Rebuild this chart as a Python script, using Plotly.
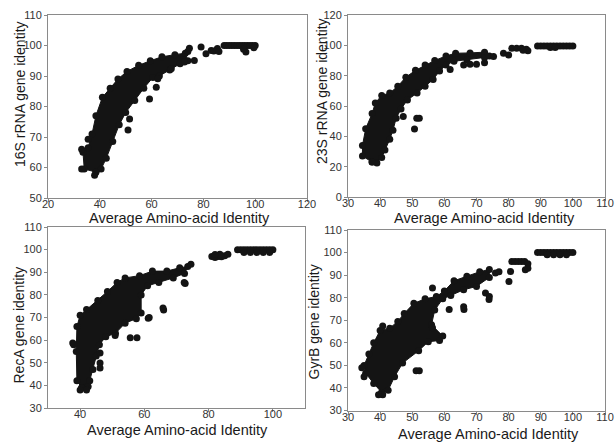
import plotly.graph_objects as go

# ---------------- data ----------------
# Panel 1: 16S rRNA vs AAI  -- dense core outline + individual points
p1_core_x = [38.5, 34, 33.5, 35.5, 37, 38.5, 41, 44, 47, 50.5, 55, 59.5, 64, 69, 73,
             74, 71, 67, 63, 60.5, 57, 53.5, 50, 47.5, 45, 42.5, 40.5]
p1_core_y = [58.5, 59.5, 65, 66.5, 71, 77, 83, 86, 89, 91.5, 93.5, 95, 96.3, 97, 97.5,
             95, 94, 92, 90, 89.5, 86, 82, 78, 74, 68.5, 63, 59.5]
p1_pts_x = [35.5, 33, 33, 38, 59.2, 61.8, 51.5, 50.9, 62.4, 67.6, 72.7, 76.5, 74.6, 74, 79.1,
            83, 85.4, 81, 84, 86, 88, 89, 90, 91, 92, 93, 94, 95, 96, 97, 98, 99, 100, 96.4, 95.5, 99.5]
p1_pts_y = [69.3, 66, 59.5, 57.5, 82.5, 86.3, 75.9, 72.3, 89.1, 92.4, 94.6, 95.1, 99.1, 98, 99.5,
            98.4, 99, 97.3, 98.2, 98, 100, 100, 100, 100, 100, 100, 100, 100, 100, 100, 100, 100, 100, 97.9, 98.8, 99.3]

# Panel 2: 23S rRNA vs AAI
p2_core_x = [37.5, 34.5, 34.5, 35.5, 37.5, 38.5, 40.5, 43, 45.5, 48, 51, 54, 57, 60.5, 63.5, 68, 72.5,
             72.5, 67, 63, 60.5, 58.5, 56.5, 54, 51.5, 48.5, 46.5, 45, 44, 43, 41.5, 40.5, 39]
p2_core_y = [23, 27, 34, 45, 55, 62, 67, 68.5, 73, 79, 83.5, 87, 90, 93, 94.8, 95, 95.5,
             92, 90.5, 89.5, 87, 83, 77.5, 73, 68.5, 64, 58, 52, 44, 38, 31, 26, 22.5]
p2_pts_x = [47.2, 51.4, 52.2, 50.7, 61.8, 66, 68, 70, 72.5, 74, 75.3, 78.4, 80, 81, 82.5, 84, 85.5, 86, 84.5,
            89, 90, 91, 92, 93, 94, 95, 96, 97, 98, 99, 100, 93, 94.5]
p2_pts_y = [53, 52, 52, 44.8, 84, 87, 87.5, 87.5, 88.5, 93, 92.6, 94.8, 93.7, 98, 98, 98, 97.5, 96.5, 96.8,
            99.5, 99.5, 99.5, 99.5, 99.5, 99.5, 99.5, 99.5, 99.5, 99.5, 99.5, 99.5, 98.5, 98.5]

# Panel 3: RecA vs AAI
p3_core_x = [40.5, 39, 38.8, 39, 40, 42, 45.5, 48.5, 51.5, 54, 58.5, 62.5, 67, 71, 73.5,
             72.5, 69, 64.5, 61, 59, 59, 57.5, 54, 51, 48, 46, 45, 44, 43, 42.5]
p3_core_y = [39, 42, 55, 66, 71, 73.5, 77.5, 81.5, 85.5, 87.5, 88.5, 90.5, 90.5, 92, 92.5,
             89.5, 87.5, 85.5, 84, 80, 72, 69.5, 67.5, 63, 61.5, 58, 53, 47, 42, 39.5]
p3_pts_x = [37.7, 38, 42, 40, 46.2, 46.2, 46.2, 50.9, 55.6, 57.7, 61.2, 61.5, 66, 65.8, 72.7, 72.4, 74.5,
            81, 82, 83, 84, 85, 86, 83.5, 82,
            89, 90, 91, 92, 93, 94, 95, 96, 97, 98, 99, 100, 91, 93, 95, 97, 99]
p3_pts_y = [58.7, 58, 38, 38, 54.3, 49.9, 47.7, 62, 61, 61, 69.7, 70, 73.3, 74.2, 85, 85.5, 93.5,
            97, 96.5, 97, 96.8, 97.3, 98, 98, 97.8,
            100, 100, 100, 100, 100, 100, 100, 100, 100, 100, 100, 100, 98.7, 98.7, 98.7, 98.7, 98.7]

# Panel 4: GyrB vs AAI
p4_core_x = [40.5, 38, 35.5, 35, 36.5, 38, 40, 43, 45.5, 47.5, 50.5, 54, 57.5, 60, 63, 67, 71, 74,
             74, 70, 66, 62, 59.5, 57, 56, 59.5, 58.5, 55, 52, 47, 44.5, 42.5]
p4_core_y = [38, 42, 46.5, 50, 55, 60, 65.5, 66.5, 69.5, 73, 77.5, 79.5, 80.5, 83, 87.5, 89.5, 91.5, 92.5,
             89, 85, 83.5, 81, 79.5, 74.5, 68, 63, 61, 60.5, 56.5, 51, 45, 39]
p4_pts_x = [34.3, 35, 40.8, 39.5, 40.8, 52.2, 51.2, 56.3, 56.3, 61.5, 66.1, 66, 72.8, 73.9, 74, 75.9, 77,
            80.1, 80.6, 81, 82, 83, 84, 85, 86, 85.2, 86,
            89, 90, 91, 92, 93, 94, 95, 96, 97, 98, 99, 100, 92, 94, 96, 98]
p4_pts_y = [49, 45, 37, 37, 67.4, 47.6, 47.6, 66.7, 84.3, 74.8, 74.8, 76, 82.1, 79.2, 80.5, 90.9, 91.5,
            87.2, 91.6, 96, 96, 96, 96, 96, 95, 92.4, 93,
            100, 100, 100, 100, 100, 100, 100, 100, 100, 100, 100, 100, 99, 99, 99, 99]

y_titles = ["16S rRNA gene identity", "23S rRNA gene identity", "RecA gene identity", "GyrB gene identity"]
x_title = "Average Amino-acid Identity"

panels = [
    (p1_core_x, p1_core_y, p1_pts_x, p1_pts_y),
    (p2_core_x, p2_core_y, p2_pts_x, p2_pts_y),
    (p3_core_x, p3_core_y, p3_pts_x, p3_pts_y),
    (p4_core_x, p4_core_y, p4_pts_x, p4_pts_y),
]

# ---------------- figure ----------------
W, H = 616, 442
INK = "#141414"
fig = go.Figure()
MS = 7
for i, (cx, cy, px, py) in enumerate(panels, start=1):
    xa = "x" if i == 1 else f"x{i}"
    ya = "y" if i == 1 else f"y{i}"
    fig.add_trace(go.Scatter(x=cx + [cx[0]], y=cy + [cy[0]], mode="lines+markers", fill="toself",
                             fillcolor=INK, line=dict(color=INK, width=1),
                             marker=dict(size=MS, color=INK), xaxis=xa, yaxis=ya,
                             showlegend=False, hoverinfo="skip"))
    fig.add_trace(go.Scatter(x=px, y=py, mode="markers",
                             marker=dict(size=MS, color=INK), xaxis=xa, yaxis=ya,
                             showlegend=False))

FONT = "Arial, Liberation Sans, sans-serif"
axis_common = dict(showline=True, linecolor="#8a8a8a", linewidth=1, mirror=True,
                   ticks="outside", ticklen=3, tickcolor="#8a8a8a", showgrid=False,
                   zeroline=False, tickfont=dict(size=11, color="#333333", family=FONT))
xaxis_extra = dict(ticklabelstandoff=-7)

def px_dom(a, b):
    return [a / W, b / W]

def py_dom(top, bottom):
    return [(H - bottom) / H, (H - top) / H]

layout = dict(
    width=W, height=H, margin=dict(l=0, r=0, t=0, b=0, autoexpand=False),
    paper_bgcolor="white", plot_bgcolor="white",
    font=dict(family=FONT),
    xaxis=dict(domain=px_dom(48, 307), range=[20, 120], tickvals=[20, 40, 60, 80, 100, 120], anchor="y", **axis_common, **xaxis_extra),
    yaxis=dict(domain=py_dom(15, 198), range=[50, 110], dtick=10, anchor="x", **axis_common),
    xaxis2=dict(domain=px_dom(348, 605), range=[30, 110], dtick=10, anchor="y2", **axis_common, **xaxis_extra),
    yaxis2=dict(domain=py_dom(15, 197), range=[0, 120], dtick=20, anchor="x2", **axis_common),
    xaxis3=dict(domain=px_dom(48, 305), range=[30, 110], tickvals=[40, 60, 80, 100], anchor="y3", **axis_common, **xaxis_extra),
    yaxis3=dict(domain=py_dom(227, 408), range=[30, 110], dtick=10, anchor="x3", **axis_common),
    xaxis4=dict(domain=px_dom(348, 605), range=[30, 110], dtick=10, anchor="y4", **axis_common, **xaxis_extra),
    yaxis4=dict(domain=py_dom(230, 410.5), range=[30, 110], dtick=10, anchor="x4", **axis_common),
)
fig.update_layout(**layout)

yfont = dict(size=14, color="#1a1a1a", family=FONT)
xfont = dict(size=14.5, color="#1a1a1a", family=FONT)
ann = []
for (xc, yc), t in zip([(20, 94), (322, 91), (18.5, 325), (313.5, 322)], y_titles):
    ann.append(dict(x=xc / W, y=1 - yc / H, xref="paper", yref="paper", text=t, textangle=-90,
                    showarrow=False, font=yfont, xanchor="center", yanchor="middle"))
for xc, yc in [(179, 218), (484, 218), (177, 430), (489, 434)]:
    ann.append(dict(x=xc / W, y=1 - yc / H, xref="paper", yref="paper", text=x_title,
                    showarrow=False, font=xfont, xanchor="center", yanchor="middle"))
fig.update_layout(annotations=ann)

fig.write_html("out.html", config={"displayModeBar": False},
               post_script="document.body.style.margin='0';document.body.style.overflow='hidden';")
